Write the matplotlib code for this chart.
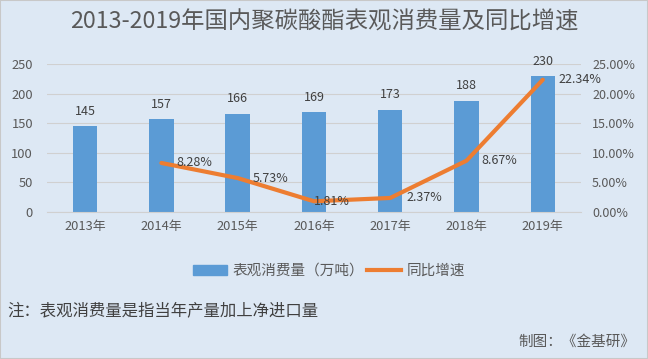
import matplotlib.pyplot as plt
from matplotlib.patches import Rectangle
from matplotlib.lines import Line2D

plt.rcParams["font.family"] = ["Noto Sans CJK SC", "DejaVu Sans"]

YEARS = ["2013年", "2014年", "2015年", "2016年", "2017年", "2018年", "2019年"]
CONSUMPTION = [145, 157, 166, 169, 173, 188, 230]
GROWTH_YEARS = [1, 2, 3, 4, 5, 6]
GROWTH = [8.28, 5.73, 1.81, 2.37, 8.67, 22.34]
LEFT_TICKS = [0, 50, 100, 150, 200, 250]
RIGHT_TICKS = [0, 5, 10, 15, 20, 25]

BG = "#dde8f4"
TEXT = "#595959"
BLUE = "#5b9bd5"
ORANGE = "#ed7d31"

fig = plt.figure(figsize=(6.48, 3.59), dpi=100, facecolor=BG)
fig.patches.append(Rectangle((0, 0), 1, 1, transform=fig.transFigure,
                             fill=False, edgecolor="#c8c8c8", lw=1.5))
ax = fig.add_axes([0.0725, 0.4095, 0.824, 0.4122])
ax.set_facecolor("none")
x = list(range(len(YEARS)))
ax.bar(x, CONSUMPTION, width=0.32, color=BLUE, zorder=2)
for xi, v in zip(x, CONSUMPTION):
    ax.annotate(str(v), (xi, v), xytext=(0, 6), textcoords="offset points",
                ha="center", va="bottom", fontsize=9, color="#404040")
ax.set_xlim(-0.5, len(YEARS) - 0.5)
ax.set_ylim(0, 250)
ax.set_yticks(LEFT_TICKS)
ax.set_xticks(x)
ax.set_xticklabels(YEARS)
ax.grid(axis="y", color="#d0d0d0", lw=0.8, zorder=0)
ax.tick_params(length=0, labelsize=9.3, labelcolor=TEXT)
ax.tick_params(axis="x", pad=6)
ax.tick_params(axis="y", pad=10)
for s in ax.spines.values():
    s.set_visible(False)
ax.spines["bottom"].set_visible(True)
ax.spines["bottom"].set_color("#d0d0d0")

ax2 = ax.twinx()
ax2.set_ylim(0, 25)
ax2.set_yticks(RIGHT_TICKS)
ax2.set_yticklabels([f"{t:.2f}%" for t in RIGHT_TICKS])
ax2.tick_params(length=0, labelsize=9, labelcolor=TEXT, pad=8)
for s in ax2.spines.values():
    s.set_visible(False)
ax2.plot(GROWTH_YEARS, GROWTH, color=ORANGE, lw=3,
         solid_joinstyle="round", solid_capstyle="round", zorder=3)
offsets = [(11, 0), (11, 0), (0, 0), (12, 0), (11, 0), (11, 0)]
for xi, v, off in zip(GROWTH_YEARS, GROWTH, offsets):
    ax2.annotate(f"{v:.2f}%", (xi, v), xytext=off, textcoords="offset points",
                 ha="left", va="center", fontsize=9, color="#404040", zorder=4)

fig.text(0.5, 0.938, "2013-2019年国内聚碳酸酯表观消费量及同比增速",
         ha="center", va="center", fontsize=16.8, color=TEXT)

handles = [Rectangle((0, 0), 1, 1, color=BLUE),
           Line2D([0], [0], color=ORANGE, lw=3)]
fig.legend(handles, ["表观消费量（万吨）", "同比增速"], loc="center",
           bbox_to_anchor=(0.508, 0.245), ncol=2, frameon=False, fontsize=10.5,
           labelcolor=TEXT, handlelength=2.3, handleheight=0.6,
           columnspacing=0.2, handletextpad=0.4)

fig.text(0.012, 0.133, "注：表观消费量是指当年产量加上净进口量", ha="left", va="center",
         fontsize=11.8, color="#404040")
fig.text(0.98, 0.047, "制图：《金基研》", ha="right", va="center",
         fontsize=10.5, color=TEXT)

fig.savefig("out.png", dpi=100, facecolor=BG)
